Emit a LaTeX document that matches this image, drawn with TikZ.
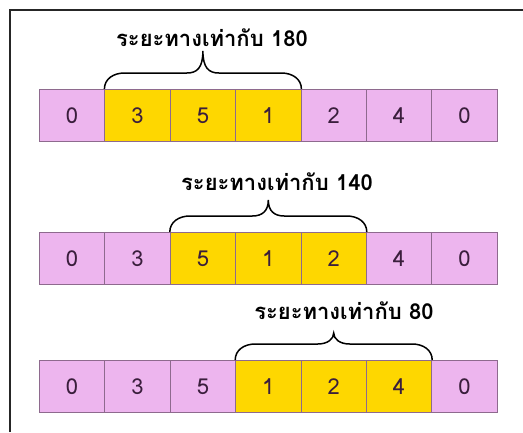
\documentclass[tikz,border=0pt]{standalone}
\usepackage{fontspec}
\newfontfamily\thaifont[Script=Thai]{Loma}
\usetikzlibrary{calc}
\definecolor{cellpink}{HTML}{EDB5EE}
\definecolor{cellyellow}{HTML}{FED700}
\definecolor{cellborder}{HTML}{8E6A8E}
\definecolor{digitcol}{HTML}{3A1E3C}
\tikzset{
  cell/.style={draw=cellborder, line width=0.8pt, minimum width=65.4pt, minimum height=52pt,
    inner sep=0pt, anchor=north west, font=\thaifont\fontsize{22}{22}\selectfont, text=digitcol},
  pinkcell/.style={cell, fill=cellpink},
  yellowcell/.style={cell, fill=cellyellow},
  lbl/.style={font=\thaifont\bfseries\fontsize{22}{22}\selectfont, inner sep=0pt},
  bracestyle/.style={draw=black, line width=1.5pt},
  frame/.style={draw=black!85, line width=1.5pt}
}
\newcommand{\mybrace}[3]{%
  \draw[bracestyle] let \p1=(#1), \p2=(#2), \n1={(\x1+\x2)/2} in
    (\p1) .. controls (\x1,\y1+10) and (\x1+9,\y1+16) .. (\x1+20,\y1+16)
    -- (\n1-16,\y1+16) .. controls (\n1-6,\y1+16) and (\n1,\y1+21) .. (\n1,\y1+#3)
    .. controls (\n1,\y1+21) and (\n1+6,\y1+16) .. (\n1+16,\y1+16)
    -- (\x2-20,\y1+16) .. controls (\x2-9,\y1+16) and (\x2,\y1+10) .. (\p2);
}
\begin{document}
\begin{tikzpicture}[x=1pt,y=-1pt]
\useasboundingbox (0,0) rectangle (523,432);
\fill[white] (0,0) rectangle (523,432);
\draw[frame] (10,432) -- (10,10) -- (523,10);
% row 1
\node[pinkcell]   (r1c0) at (39.0,89)  {0};
\node[yellowcell] (r1c1) at (104.4,89) {3};
\node[yellowcell] (r1c2) at (169.8,89) {5};
\node[yellowcell] (r1c3) at (235.2,89) {1};
\node[pinkcell]   (r1c4) at (300.6,89) {2};
\node[pinkcell]   (r1c5) at (366.0,89) {4};
\node[pinkcell]   (r1c6) at (431.4,89) {0};
\mybrace{r1c1.north west}{r1c3.north east}{38}
\node[lbl] (l1) at (212,38) {ระยะทางเท่ากับ 180};
% row 2
\node[pinkcell]   (r2c0) at (39.0,232)  {0};
\node[pinkcell]   (r2c1) at (104.4,232) {3};
\node[yellowcell] (r2c2) at (169.8,232) {5};
\node[yellowcell] (r2c3) at (235.2,232) {1};
\node[yellowcell] (r2c4) at (300.6,232) {2};
\node[pinkcell]   (r2c5) at (366.0,232) {4};
\node[pinkcell]   (r2c6) at (431.4,232) {0};
\mybrace{r2c2.north west}{r2c4.north east}{32}
\node[lbl] (l2) at (277,182) {ระยะทางเท่ากับ 140};
% row 3
\node[pinkcell]   (r3c0) at (39.0,360)  {0};
\node[pinkcell]   (r3c1) at (104.4,360) {3};
\node[pinkcell]   (r3c2) at (169.8,360) {5};
\node[yellowcell] (r3c3) at (235.2,360) {1};
\node[yellowcell] (r3c4) at (300.6,360) {2};
\node[yellowcell] (r3c5) at (366.0,360) {4};
\node[pinkcell]   (r3c6) at (431.4,360) {0};
\mybrace{r3c3.north west}{r3c5.north east}{27}
\node[lbl] (l3) at (344,311) {ระยะทางเท่ากับ 80};
\end{tikzpicture}
\end{document}
